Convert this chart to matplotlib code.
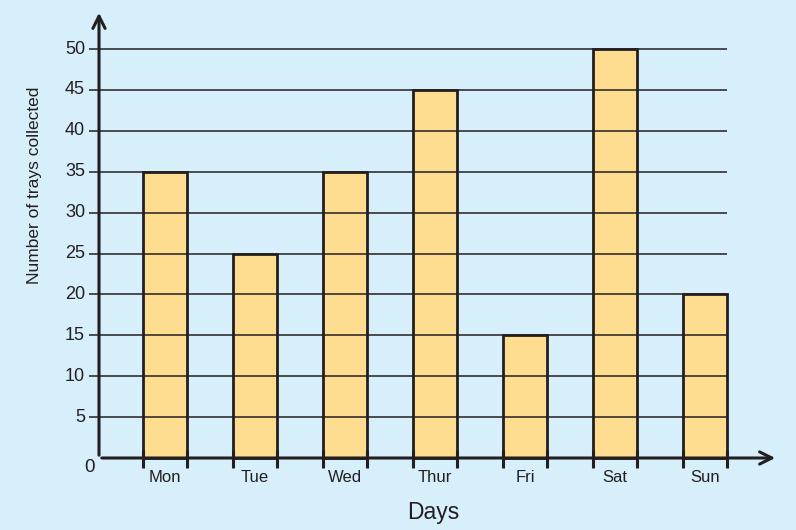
import matplotlib
matplotlib.use("Agg")
import matplotlib.pyplot as plt
import numpy as np

days = ["Mon", "Tue", "Wed", "Thur", "Fri", "Sat", "Sun"]
trays = [35, 25, 35, 45, 15, 50, 20]
y_ticks = [5, 10, 15, 20, 25, 30, 35, 40, 45, 50]

BG = "#d7eefb"
BAR = "#fedc90"
INK = "#231f20"

plt.rcParams.update({"font.family": ["Liberation Sans", "DejaVu Sans"], "text.color": INK})

# full-figure axes; limits chosen so one bar slot = 90 px, 5 trays = ~41 px
fig = plt.figure(figsize=(7.96, 5.30), dpi=100, facecolor=BG)
ax = fig.add_axes([0, 0, 1, 1])
ax.set_facecolor(BG)
ax.set_xlim(-165 / 90, (796 - 165) / 90)
ax.set_ylim(-72 / 8.18, 458 / 8.18)
ax.axis("off")

x = np.arange(len(days))
w = 44 / 90
x_axis = -66 / 90          # where the y axis sits
grid_left = -76 / 90
grid_right = x[-1] + w / 2

# bars, gridlines drawn over them like the printed original
ax.bar(x, trays, width=w, color=BAR, edgecolor=INK, linewidth=2.0, zorder=2)
ax.hlines(y_ticks, grid_left, grid_right, color=INK, lw=1.1, zorder=3)

# axes with open arrow heads
ax.annotate("", xy=(x_axis, 448 / 8.18), xytext=(x_axis, 0),
            arrowprops=dict(arrowstyle="->", color=INK, lw=2.2, mutation_scale=22), zorder=4)
ax.annotate("", xy=((778 - 165) / 90, 0), xytext=(x_axis, 0),
            arrowprops=dict(arrowstyle="->", color=INK, lw=2.2, mutation_scale=22), zorder=4)

# tick marks at bar edges
edges = np.concatenate([x - w / 2, x + w / 2])
ax.vlines(edges, -10 / 8.18, 8 / 8.18, color=INK, lw=2.2, zorder=5)

# labels
for t in y_ticks:
    ax.text(grid_left - 4 / 90, t, str(t), ha="right", va="center", fontsize=13)
ax.text(-75 / 90, -10 / 8.18, "0", ha="center", va="center", fontsize=13.5)
for xi, d in zip(x, days):
    ax.text(xi, -20 / 8.18, d, ha="center", va="center", fontsize=12)
ax.text((433 - 165) / 90, -54 / 8.18, "Days", ha="center", va="center", fontsize=16.5)
ax.text(-130 / 90, (458 - 185) / 8.18, "Number of trays collected", rotation=90,
        ha="center", va="center", fontsize=12.5)

fig.savefig("out.png", facecolor=BG)
